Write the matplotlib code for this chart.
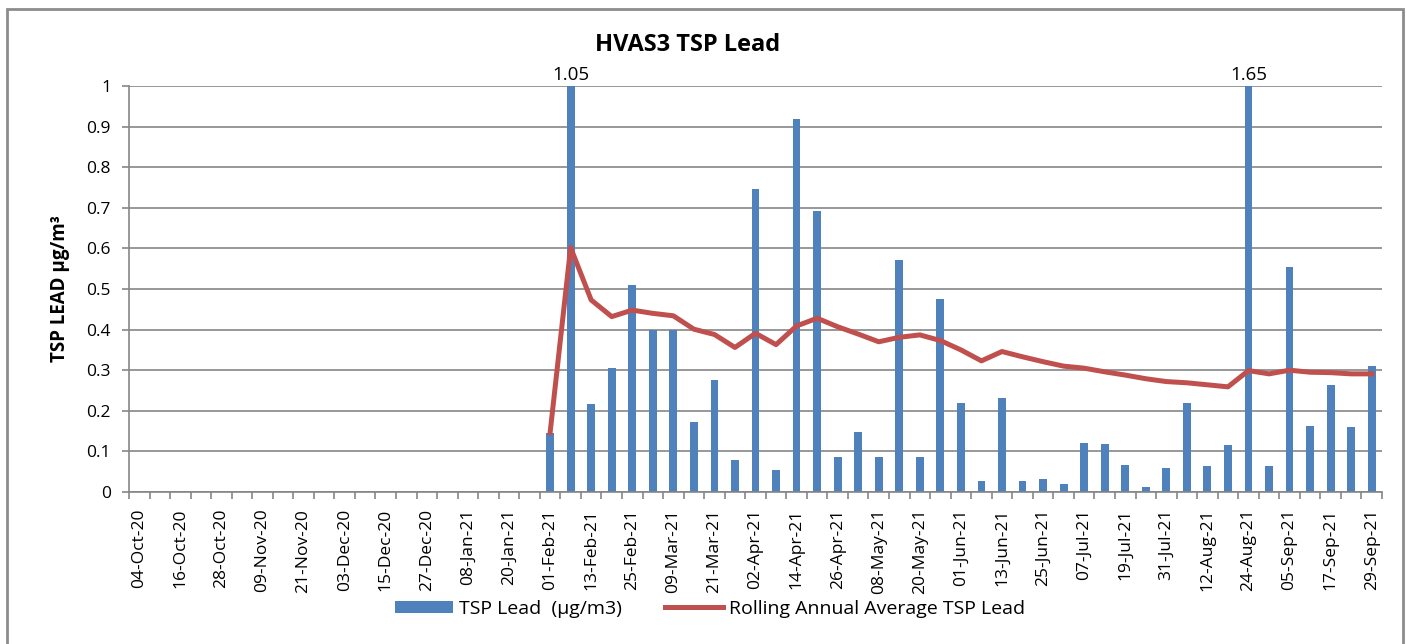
import numpy as np
import pandas as pd
import matplotlib
matplotlib.use('Agg')
import matplotlib.pyplot as plt
from matplotlib.patches import Rectangle

plt.rcParams['font.family'] = ['Open Sans', 'DejaVu Sans']

## Data ###################################################################

dates = pd.date_range('2020-10-04', '2021-09-29', freq='6D')
date_labels = [d.strftime('%d-%b-%y') for d in dates]

# no sampling before 01-Feb-21
lead = [np.nan] * 20 + [
    0.146, 1.05, 0.217, 0.305, 0.511, 0.398, 0.400, 0.172, 0.277, 0.079,
    0.747, 0.055, 0.918, 0.693, 0.086, 0.147, 0.085, 0.571, 0.086, 0.476,
    0.218, 0.028, 0.232, 0.027, 0.031, 0.020, 0.121, 0.118, 0.066, 0.012,
    0.060, 0.219, 0.064, 0.116, 1.65, 0.064, 0.554, 0.163, 0.264, 0.160,
    0.311]
rolling = [np.nan] * 20 + [
    0.146, 0.602, 0.473, 0.432, 0.448, 0.440, 0.434, 0.401, 0.388, 0.356,
    0.391, 0.363, 0.409, 0.428, 0.407, 0.389, 0.370, 0.381, 0.387, 0.373,
    0.350, 0.323, 0.346, 0.333, 0.321, 0.310, 0.305, 0.296, 0.288, 0.279,
    0.272, 0.269, 0.264, 0.259, 0.299, 0.291, 0.300, 0.295, 0.294, 0.291,
    0.291]

bar_color = '#4F81BD'
line_color = '#C0504D'
grid_color = '#868686'

## Plot ###################################################################

fig = plt.figure(figsize=(14.07, 6.44), dpi=100)
ax = fig.add_axes([129 / 1407, 1 - 492 / 644, (1382 - 129) / 1407, (492 - 86) / 644])

x = np.arange(len(dates))
lead = np.array(lead, dtype=float)
rolling = np.array(rolling, dtype=float)

bars = ax.bar(x, lead, width=0.38, color=bar_color, zorder=2,
              label='TSP Lead  (\u00b5g/m3)')
line, = ax.plot(x, rolling, color=line_color, lw=3.6, zorder=3, solid_joinstyle='round',
                label='Rolling Annual Average TSP Lead')

# values above the axis limit get a label on top
for xi, v in zip(x, lead):
    if v > 1:
        ax.text(xi, 1.004, '{:.2f}'.format(v), ha='center', va='bottom', fontsize=13.5)

ax.set_xlim(-0.5, len(dates) - 0.5)
ax.set_ylim(0, 1)
ax.set_yticks(np.arange(0, 1.01, 0.1))
ax.set_yticklabels(['0'] + ['{:.1f}'.format(v) for v in np.arange(0.1, 0.95, 0.1)] + ['1'])
ax.set_xticks(x[::2])
ax.set_xticklabels(date_labels[::2], rotation=90)
ax.set_xticks(np.arange(-0.5, len(dates), 1), minor=True)

ax.tick_params(axis='x', which='major', length=0, pad=12, labelsize=12.5)
ax.tick_params(axis='x', which='minor', length=5, color=grid_color, width=1.2)
ax.tick_params(axis='y', length=5, color=grid_color, width=1.2, labelsize=12.5, pad=8)

ax.yaxis.grid(True, color=grid_color, lw=1.2, zorder=0)
ax.set_axisbelow(True)
for s in ['top', 'right']:
    ax.spines[s].set_visible(False)
for s in ['left', 'bottom']:
    ax.spines[s].set_color(grid_color)
    ax.spines[s].set_linewidth(1.2)

ax.set_ylabel('TSP LEAD \u00b5g/m\u00b3', fontsize=13.5, fontweight='bold', labelpad=12)
fig.text(688 / 1407, 1 - 45 / 644, 'HVAS3 TSP Lead', ha='center', va='center',
         fontsize=17, fontweight='bold')

fig.legend(handles=[bars, line], loc='center', bbox_to_anchor=(710 / 1407, 1 - 609 / 644),
           ncol=2, frameon=False, fontsize=14, handlelength=3.0, handleheight=0.6,
           columnspacing=2.2, handletextpad=0.3)

fig.patches.append(Rectangle((7 / 1407, -0.02), (1403 - 7) / 1407, 1 - 9 / 644 + 0.02,
                             transform=fig.transFigure, fill=False,
                             edgecolor='#8C8C8C', lw=2))

fig.savefig('out.png', dpi=100)
